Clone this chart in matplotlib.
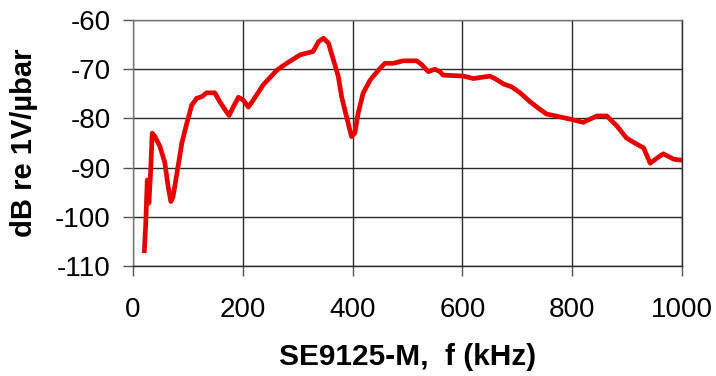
import matplotlib.pyplot as plt

# Sensitivity of SE9125-M hydrophone vs frequency
freq_khz = [20.6, 23, 26, 29, 32, 35, 40, 49, 58, 64, 69, 73, 81, 89, 98, 107, 116, 125,
            134, 149, 158, 168, 175, 183, 192, 201, 210, 219, 237, 262, 280, 304, 328,
            338, 347, 356, 365, 374, 380, 389, 398, 404, 410, 419, 432, 447, 459, 474,
            492, 517, 526, 538, 550, 559, 565, 602, 620, 632, 650, 659, 675, 690, 705,
            723, 738, 753, 778, 802, 820, 845, 863, 881, 899, 914, 930, 942, 954, 966,
            985, 1000]
sens_db = [-106.9, -102, -92.5, -97.2, -91, -83, -83.7, -85.7, -89, -93.9, -96.9, -95.9,
           -90.5, -85, -81, -77.3, -75.9, -75.6, -74.8, -74.8, -76.6, -78.3, -79.4, -77.6,
           -75.7, -76.3, -77.7, -76.3, -73.2, -70.2, -68.8, -67.1, -66.4, -64.4, -63.7,
           -64.7, -68.1, -71.5, -75.6, -79.7, -83.7, -83, -79, -74.9, -72.2, -70.2, -68.8,
           -68.8, -68.3, -68.3, -69.1, -70.5, -70, -70.5, -71.2, -71.4, -71.9, -71.7,
           -71.4, -71.9, -73, -73.6, -74.8, -76.6, -77.9, -79.1, -79.7, -80.3, -80.8,
           -79.5, -79.5, -81.5, -84, -85, -86, -89.1, -88.1, -87.2, -88.3, -88.5]

x_ticks = [0, 200, 400, 600, 800, 1000]
y_ticks = [-110, -100, -90, -80, -70, -60]

plt.rcParams['font.family'] = ['Liberation Sans', 'DejaVu Sans']
plt.rcParams['axes.unicode_minus'] = False

fig = plt.figure(figsize=(7.16, 3.76), dpi=100)
ax = fig.add_axes([133 / 716, 1 - 266 / 376, 549 / 716, 246 / 376])

ax.plot(freq_khz, sens_db, color='#e60000', lw=3.4, solid_joinstyle='round')

ax.set_xlim(0, 1000)
ax.set_ylim(-110, -60)
ax.set_xticks(x_ticks)
ax.set_yticks(y_ticks)
ax.grid(True, color='#2a2a2a', lw=1)
for s in ax.spines.values():
    s.set_color('#2a2a2a')
    s.set_linewidth(1)
ax.spines['top'].set_color('#777777')
ax.spines['left'].set_color('#777777')
ax.tick_params(axis='both', direction='out', length=7, width=1, color='#555555',
               labelsize=20)
ax.tick_params(axis='x', pad=15)
ax.tick_params(axis='y', pad=9)

ax.set_xlabel('SE9125-M,  f (kHz)', fontsize=21.5, fontweight='bold', labelpad=15)
ax.set_ylabel('dB re 1V/µbar', fontsize=21, fontweight='bold', labelpad=12)

fig.savefig('out.png', dpi=100)
